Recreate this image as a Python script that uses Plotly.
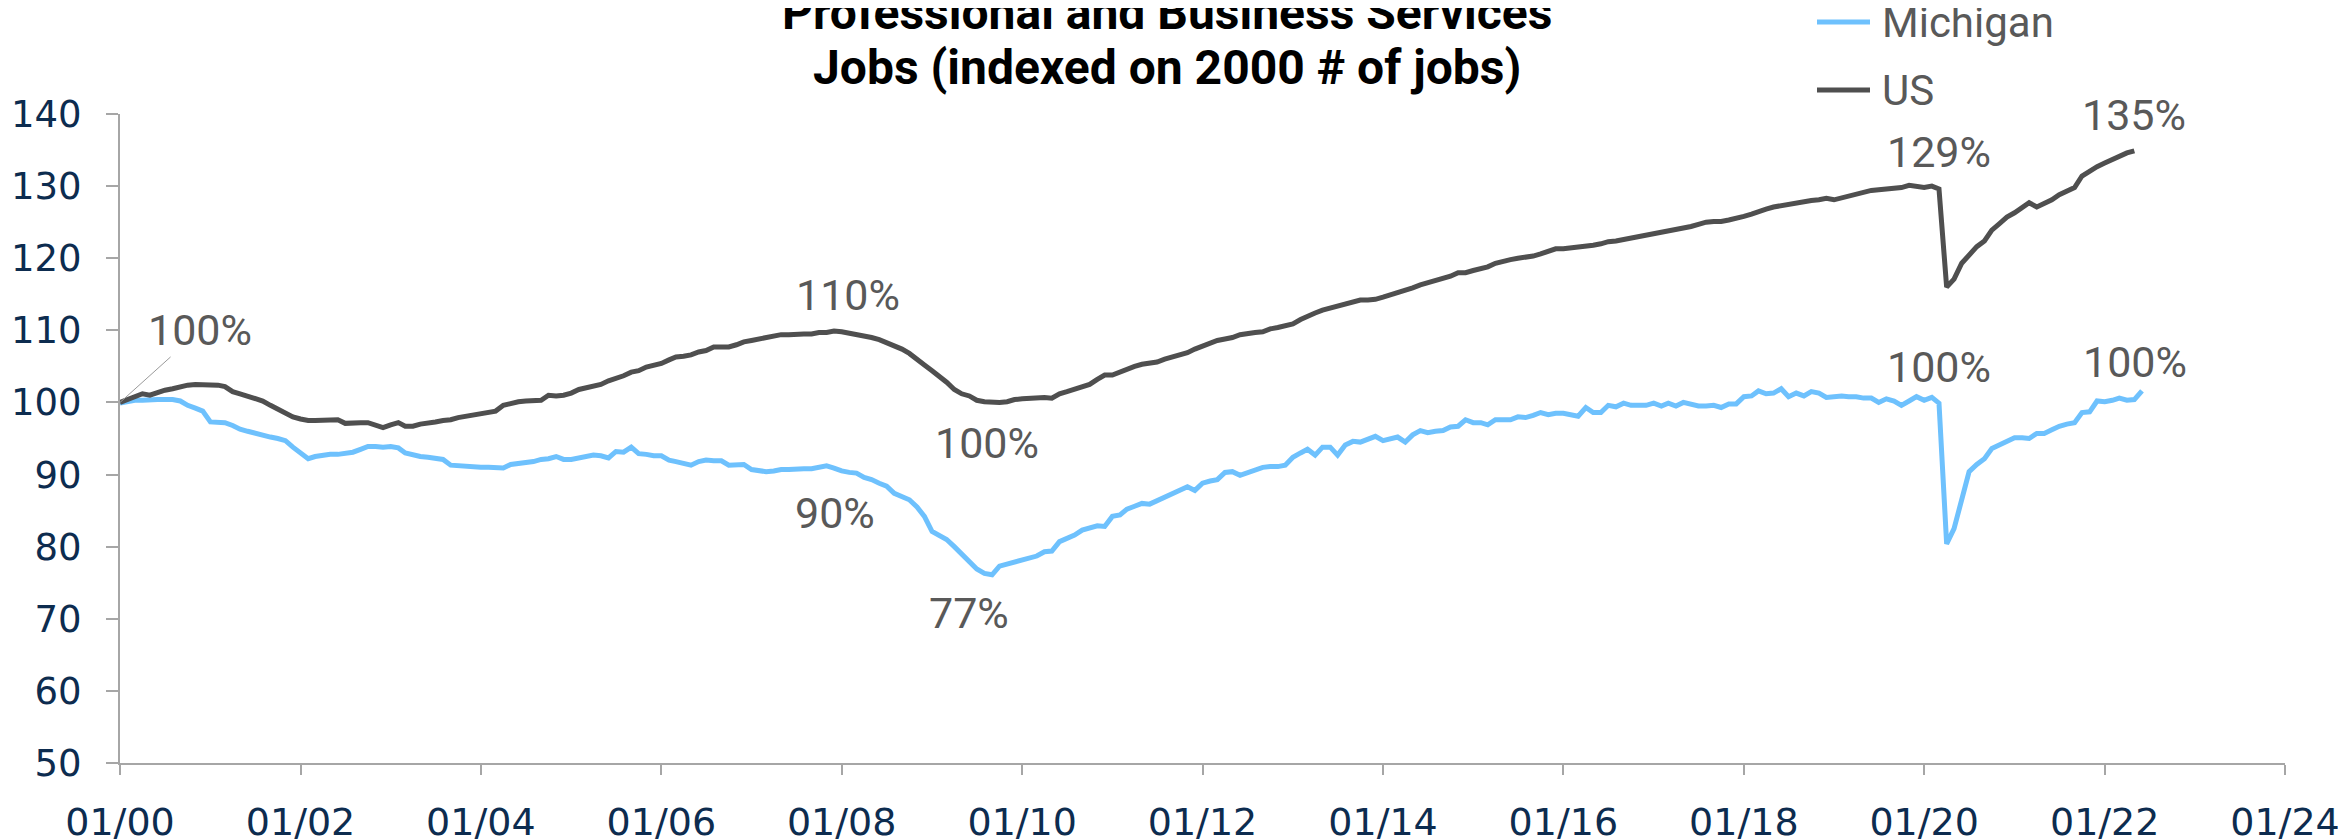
import pandas as pd
import plotly.graph_objects as go

# index values (2000-01 = 100), monthly
us = [
    100.0, 100.4, 100.8, 101.2, 101.0, 101.4, 101.7, 101.9, 102.2, 102.4, 102.5, 102.5,  # 2000
    102.5, 102.4, 102.2, 101.5, 101.2, 100.9, 100.6, 100.2, 99.6, 99.1, 98.5, 98.0,  # 2001
    97.7, 97.5, 97.5, 97.5, 97.5, 97.6, 97.1, 97.2, 97.2, 97.2, 96.9, 96.5,  # 2002
    96.9, 97.2, 96.7, 96.7, 97.0, 97.1, 97.3, 97.5, 97.6, 97.9, 98.1, 98.3,  # 2003
    98.5, 98.7, 98.8, 99.6, 99.9, 100.1, 100.2, 100.3, 100.3, 101.0, 100.9, 101.0,  # 2004
    101.3, 101.8, 102.0, 102.3, 102.5, 103.0, 103.3, 103.7, 104.2, 104.4, 104.9, 105.1,  # 2005
    105.4, 105.9, 106.3, 106.4, 106.6, 107.0, 107.2, 107.7, 107.7, 107.7, 108.0, 108.4,  # 2006
    108.6, 108.8, 109.0, 109.2, 109.4, 109.4, 109.5, 109.5, 109.5, 109.7, 109.7, 109.9,  # 2007
    109.8, 109.6, 109.4, 109.3, 109.0, 108.7, 108.3, 107.9, 107.4, 106.8, 105.9, 105.2,  # 2008
    104.4, 103.6, 102.8, 101.8, 101.2, 100.9, 100.3, 100.1, 100.0, 100.0, 100.1, 100.4,  # 2009
    100.5, 100.6, 100.7, 100.7, 100.6, 101.2, 101.5, 101.8, 102.2, 102.5, 103.2, 103.8,  # 2010
    103.8, 104.2, 104.7, 105.0, 105.3, 105.5, 105.6, 106.0, 106.3, 106.6, 106.9, 107.4,  # 2011
    107.8, 108.2, 108.6, 108.8, 109.0, 109.4, 109.6, 109.7, 109.8, 110.2, 110.4, 110.7,  # 2012
    110.9, 111.5, 112.0, 112.4, 112.8, 113.1, 113.3, 113.6, 113.9, 114.2, 114.2, 114.3,  # 2013
    114.6, 114.9, 115.3, 115.6, 115.9, 116.3, 116.6, 116.9, 117.1, 117.5, 118.0, 118.0,  # 2014
    118.3, 118.6, 118.8, 119.3, 119.6, 119.8, 120.0, 120.1, 120.3, 120.6, 121.0, 121.3,  # 2015
    121.3, 121.4, 121.5, 121.7, 121.8, 122.0, 122.3, 122.4, 122.6, 122.8, 123.0, 123.2,  # 2016
    123.4, 123.5, 123.7, 123.9, 124.2, 124.4, 124.7, 125.0, 125.1, 125.1, 125.3, 125.5,  # 2017
    125.8, 126.1, 126.5, 126.8, 127.1, 127.3, 127.4, 127.6, 127.8, 128.0, 128.1, 128.3,  # 2018
    128.1, 128.4, 128.6, 128.8, 129.1, 129.4, 129.5, 129.6, 129.7, 129.8, 130.1, 129.9,  # 2019
    129.8, 130.0, 129.6, 116.0, 117.1, 119.3, 120.5, 121.6, 122.4, 123.9, 124.8, 125.7,  # 2020
    126.3, 127.0, 127.7, 127.1, 127.6, 128.1, 128.8, 129.4, 129.8, 131.4, 132.1, 132.7,  # 2021
    133.2, 133.7, 134.1, 134.6, 134.9,  # 2022
]

michigan = [
    99.9, 100.1, 100.3, 100.3, 100.4, 100.4, 100.4, 100.4, 100.2, 99.6, 99.2, 98.8,  # 2000
    97.3, 97.3, 97.2, 96.8, 96.3, 96.0, 95.7, 95.4, 95.2, 95.0, 94.7, 93.8,  # 2001
    92.9, 92.2, 92.5, 92.7, 92.8, 92.8, 92.9, 93.1, 93.5, 93.9, 93.9, 93.8,  # 2002
    93.9, 93.7, 93.0, 92.7, 92.5, 92.4, 92.3, 92.1, 91.3, 91.2, 91.2, 91.1,  # 2003
    91.0, 91.0, 91.0, 90.9, 91.4, 91.5, 91.7, 91.8, 92.1, 92.2, 92.5, 92.1,  # 2004
    92.1, 92.3, 92.4, 92.7, 92.6, 92.3, 93.2, 93.1, 93.8, 92.9, 92.8, 92.6,  # 2005
    92.6, 92.0, 91.8, 91.5, 91.3, 91.8, 92.0, 91.9, 91.9, 91.3, 91.4, 91.4,  # 2006
    90.7, 90.6, 90.4, 90.5, 90.7, 90.7, 90.8, 90.8, 90.8, 91.0, 91.2, 90.9,  # 2007
    90.5, 90.3, 90.2, 89.6, 89.3, 88.8, 88.4, 87.4, 86.9, 86.5, 85.5, 84.2,  # 2008
    82.1, 81.5, 81.0, 80.0, 79.0, 77.9, 76.9, 76.3, 76.1, 77.3, 77.6, 78.0,  # 2009
    78.3, 78.6, 78.7, 79.3, 79.4, 80.7, 81.1, 81.6, 82.3, 82.6, 82.9, 82.8,  # 2010
    84.2, 84.4, 85.2, 85.6, 86.0, 85.9, 86.4, 86.9, 87.4, 87.9, 88.3, 87.8,  # 2011
    88.8, 89.1, 89.3, 90.3, 90.4, 89.9, 90.3, 90.6, 91.0, 91.1, 91.1, 91.3,  # 2012
    92.4, 93.0, 93.5, 92.7, 93.8, 93.8, 92.7, 94.1, 94.6, 94.5, 94.9, 95.3,  # 2013
    94.7, 95.0, 95.2, 94.5, 95.5, 96.1, 95.8, 96.0, 96.1, 96.6, 96.7, 97.6,  # 2014
    97.2, 97.2, 96.9, 97.6, 97.6, 97.6, 98.0, 97.9, 98.2, 98.6, 98.3, 98.5,  # 2015
    98.5, 98.2, 98.1, 99.3, 98.6, 98.6, 99.6, 99.4, 99.9, 99.6, 99.6, 99.6,  # 2016
    99.9, 99.5, 99.9, 99.5, 100.0, 99.8, 99.5, 99.5, 99.6, 99.3, 99.8, 99.8,  # 2017
    100.8, 100.9, 101.6, 101.2, 101.3, 101.9, 100.8, 101.3, 100.9, 101.5, 101.3, 100.7,  # 2018
    100.8, 100.9, 100.8, 100.8, 100.6, 100.6, 100.0, 100.5, 100.2, 99.6, 100.2, 100.8,  # 2019
    100.3, 100.7, 99.9, 80.4, 82.5, 86.5, 90.4, 91.4, 92.2, 93.6, 94.1, 94.6,  # 2020
    95.1, 95.1, 95.0, 95.7, 95.7, 96.2, 96.7, 97.0, 97.2, 98.6, 98.7, 100.2,  # 2021
    100.1, 100.3, 100.6, 100.3, 100.4, 101.6,  # 2022
]

us_dates = pd.date_range("2000-01-01", periods=len(us), freq="MS")
mi_dates = pd.date_range("2000-01-01", periods=len(michigan), freq="MS")

MI_COLOR = "#6ec1fd"
US_COLOR = "#4f4f4f"
LABEL_COLOR = "#595959"
AXIS_COLOR = "#a6a6a6"
TICK_COLOR = "#0d2c4f"

# the page body adds an 8px offset, so margins are shifted by it
OFF = 8
L, R, T, B = 112, 69, 106, 84
W, H = 2346, 839
PW, PH = W - L - R, H - T - B


def px(x):
    # screen x -> paper coord
    return (x - OFF - L) / PW


def py(y):
    # screen y -> paper coord
    return (H - B - (y - OFF)) / PH


fig = go.Figure()
fig.add_trace(go.Scatter(x=mi_dates, y=michigan, name="Michigan", mode="lines",
                         line=dict(color=MI_COLOR, width=5), showlegend=False))
fig.add_trace(go.Scatter(x=us_dates, y=us, name="US", mode="lines",
                         line=dict(color=US_COLOR, width=5), showlegend=False))

# labels: (dates, values, index, text, xshift, yshift)
labels = [
    (us_dates, us, 96, "110%", 6, 37),
    (us_dates, us, 116, "100%", -5, -41),
    (mi_dates, michigan, 96, "90%", -7, -42),
    (mi_dates, michigan, 116, "77%", -23, -38),
    (us_dates, us, 242, "129%", 0, 37),
    (us_dates, us, len(us) - 1, "135%", 0, 36),
    (mi_dates, michigan, 242, "100%", 0, 36),
    (mi_dates, michigan, len(michigan) - 1, "100%", -7, 29),
]
for d, v, i, txt, xs, ys in labels:
    fig.add_annotation(x=d[i], y=v[i], text=txt, showarrow=False, xshift=xs, yshift=ys,
                       font=dict(family="Roboto", size=43, color=LABEL_COLOR))

# first point label with leader line
fig.add_annotation(x=us_dates[0], y=us[0], text="100%", showarrow=True, arrowhead=0,
                   arrowwidth=1, arrowcolor="#9a9a9a", ax=80, ay=-72,
                   font=dict(family="Roboto", size=43, color=LABEL_COLOR))

# title, two lines placed separately
for line, ypix in [("Professional and Business Services", 13), ("Jobs (indexed on 2000 # of jobs)", 67)]:
    fig.add_annotation(text="<b>" + line + "</b>", xref="paper", yref="paper",
                       x=px(1167), y=py(ypix), xanchor="center", yanchor="middle",
                       showarrow=False, font=dict(family="Roboto", size=48, color="#000000"))

# legend drawn by hand
for name, color, ypix in [("Michigan", MI_COLOR, 22), ("US", US_COLOR, 90)]:
    fig.add_shape(type="line", xref="paper", yref="paper",
                  x0=px(1817), x1=px(1870), y0=py(ypix), y1=py(ypix),
                  line=dict(color=color, width=5))
    fig.add_annotation(text=name, xref="paper", yref="paper", x=px(1880), y=py(ypix),
                       xanchor="left", yanchor="middle", showarrow=False,
                       font=dict(family="Roboto", size=42, color=LABEL_COLOR))

fig.update_layout(
    width=W, height=H,
    margin=dict(l=L, r=R, t=T, b=B, autoexpand=False),
    plot_bgcolor="white", paper_bgcolor="white",
    showlegend=False,
    xaxis=dict(
        type="date", range=["2000-01-01", "2024-01-01"], automargin=False,
        tick0="2000-01-01", dtick="M24", tickformat="%m/%y",
        showgrid=False, zeroline=False,
        showline=True, linecolor=AXIS_COLOR, linewidth=2,
        ticks="outside", ticklen=10, tickcolor=AXIS_COLOR, tickwidth=2,
        ticklabelstandoff=14,
        tickfont=dict(family="DejaVu Sans", size=38, color=TICK_COLOR),
    ),
    yaxis=dict(
        range=[50, 140], dtick=10, automargin=False,
        showgrid=False, zeroline=False,
        showline=True, linecolor=AXIS_COLOR, linewidth=2,
        ticks="outside", ticklen=12, tickcolor=AXIS_COLOR, tickwidth=2,
        ticklabelstandoff=17,
        tickfont=dict(family="DejaVu Sans", size=37, color=TICK_COLOR),
    ),
)

fig.write_html("out.html")
